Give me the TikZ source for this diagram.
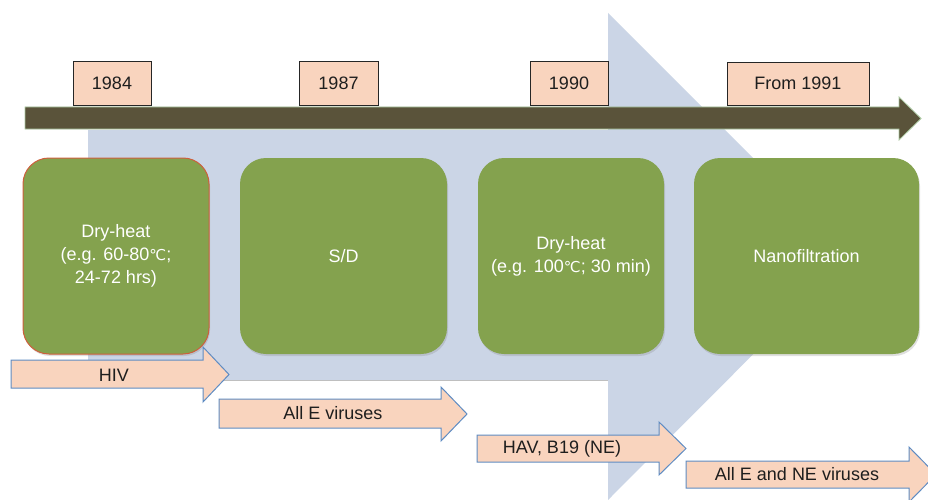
\documentclass[tikz,border=0pt]{standalone}
\usepackage{fontspec}
\setmainfont{Liberation Sans}
\newfontfamily\dvfont{DejaVu Sans}
\usetikzlibrary{shadows}
\definecolor{blueA}{RGB}{203,213,230}
\definecolor{barC}{RGB}{90,83,58}
\definecolor{barEdge}{RGB}{170,200,160}
\definecolor{peach}{RGB}{249,212,190}
\definecolor{greenB}{RGB}{132,162,78}
\definecolor{redEdge}{RGB}{205,95,60}
\definecolor{arrEdge}{RGB}{95,140,195}
\definecolor{txtD}{RGB}{30,30,30}
\newcommand{\degC}{{\dvfont\fontsize{15}{18}\selectfont ℃}}
\begin{document}
\begin{tikzpicture}[x=1pt,y=-1pt,
  bigarrow/.style={fill=blueA,draw=none},
  barstyle/.style={fill=barC,draw=barEdge,line width=0.8pt},
  yearbox/.style={draw=black!85,line width=0.9pt,fill=peach,inner sep=0pt,
    font=\fontsize{18}{22}\selectfont,text=txtD},
  greenbox/.style={fill=greenB,rounded corners=26pt,inner sep=0pt,
    minimum height=196pt,text=white,align=center,
    font=\fontsize{18}{23}\selectfont,
    drop shadow={shadow xshift=1pt,shadow yshift=-2pt,opacity=0.25}},
  peacharrow/.style={fill=peach,draw=arrEdge,line width=1pt,line join=miter},
  arrowtext/.style={font=\fontsize{18}{22}\selectfont,text=txtD,inner sep=0pt}
]
\clip (0,0) rectangle (928,500);
\fill[white] (0,0) rectangle (928,500);

% big background arrow
\path[bigarrow] (88,130) -- (608,130) -- (608,13) -- (851,256) -- (608,500)
  -- (608,380) -- (88,380) -- cycle;
\draw[black!25,line width=0.6pt] (88,380.5) -- (608,380.5);

% timeline bar
\path[barstyle] (25,107) -- (899,107) -- (899,97) -- (921,118.5) -- (899,140)
  -- (899,129) -- (25,129) -- cycle;

% year boxes
\node[yearbox,minimum width=78pt,minimum height=44pt] (y1984) at (112,83) {1984};
\node[yearbox,minimum width=79pt,minimum height=44pt] (y1987) at (338.5,83) {1987};
\node[yearbox,minimum width=78pt,minimum height=44pt] (y1990) at (569,83) {1990};
\node[yearbox,minimum width=142pt,minimum height=43pt] (y1991) at (798,83.5) {From 1991};

% green method boxes
\node[greenbox,minimum width=186pt,draw=redEdge,line width=1pt] (m1) at (116,256)
  {Dry-heat\\(e.g. 60-80\degC;\\24-72 hrs)};
\node[greenbox,minimum width=207pt] (m2) at (343.5,256) {S/D};
\node[greenbox,minimum width=186pt] (m3) at (571,256)
  {Dry-heat\\(e.g. 100\degC; 30 min)};
\node[greenbox,minimum width=225pt] (m4) at (806.5,256) {Nanofiltration};

% virus arrows
\path[peacharrow] (11,360) -- (203,360) -- (203,347) -- (229,374.5) -- (203,402)
  -- (203,388) -- (11,388) -- cycle;
\node[arrowtext] (hiv) at (114,375) {HIV};

\path[peacharrow] (219,399) -- (441,399) -- (441,387) -- (467,414) -- (441,441)
  -- (441,428) -- (219,428) -- cycle;
\node[arrowtext] (alle) at (333,413) {All E viruses};

\path[peacharrow] (477,435) -- (659,435) -- (659,422) -- (686,448.5) -- (659,475)
  -- (659,462) -- (477,462) -- cycle;
\node[arrowtext] (hav) at (562,449) {HAV, B19 (NE)};

\path[peacharrow] (686,461) -- (909,461) -- (909,447) -- (936,474.5) -- (909,502)
  -- (909,488) -- (686,488) -- cycle;
\node[arrowtext] (allne) at (797,474) {All E and NE viruses};
\end{tikzpicture}
\end{document}
